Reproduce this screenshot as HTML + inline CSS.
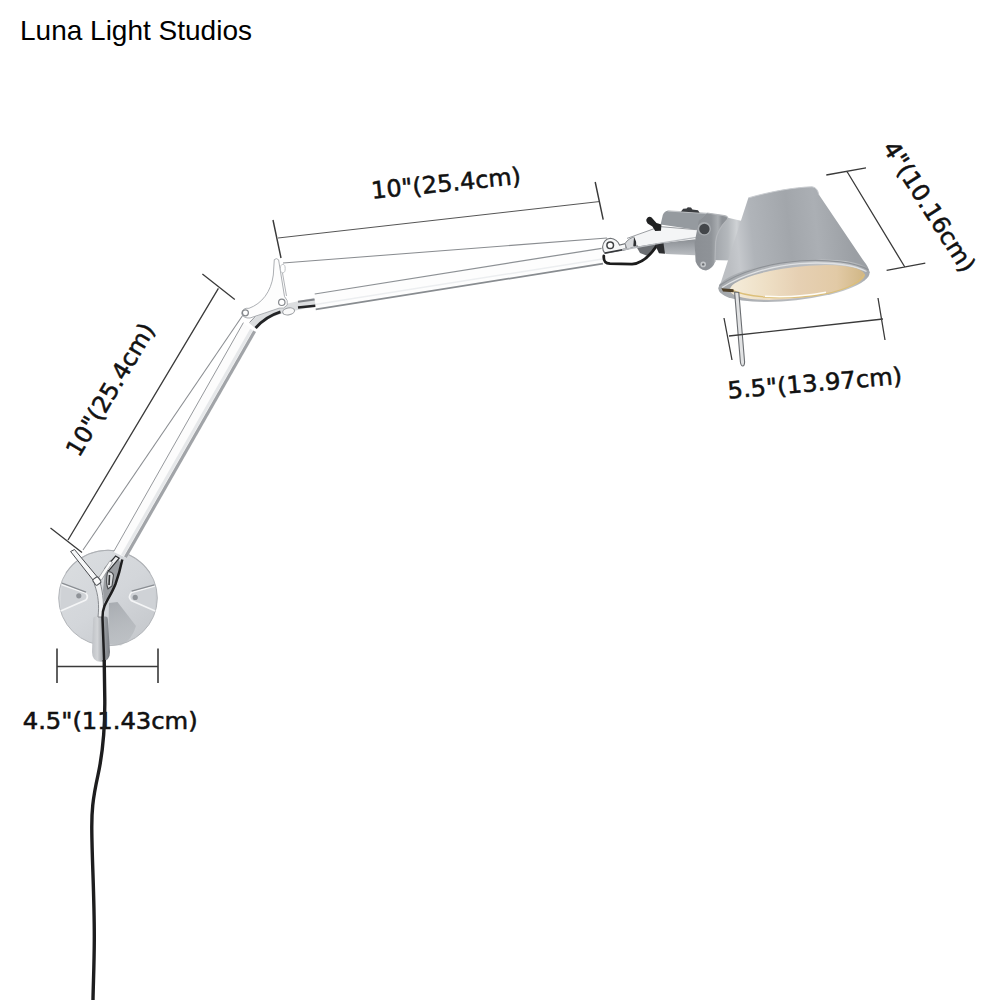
<!DOCTYPE html>
<html lang="en">
<head>
<meta charset="utf-8">
<title>Luna Light Studios</title>
<style>
html,body{margin:0;padding:0;background:#fff;}
body{width:1000px;height:1000px;position:relative;overflow:hidden;font-family:"Liberation Sans",sans-serif;}
#brand{position:absolute;left:20px;top:15px;font-size:28px;line-height:32px;color:#000;white-space:nowrap;letter-spacing:0;}
svg{position:absolute;left:0;top:0;}
.dim{stroke:#3a3a3a;stroke-width:1.3;fill:none;stroke-linecap:butt;}
.lbl{font-family:"DejaVu Sans","Liberation Sans",sans-serif;font-size:23.5px;fill:#111;stroke:#111;stroke-width:.55;}
</style>
</head>
<body>
<div id="brand">Luna Light Studios</div>
<svg width="1000" height="1000" viewBox="0 0 1000 1000">
<defs>
<linearGradient id="gShade" gradientUnits="userSpaceOnUse" x1="728" y1="245" x2="852" y2="232">
<stop offset="0" stop-color="#bcbfc3"/><stop offset=".08" stop-color="#c5c8cc"/><stop offset=".2" stop-color="#b0b4b9"/><stop offset=".5" stop-color="#a2a6ab"/><stop offset=".72" stop-color="#abafb4"/><stop offset="1" stop-color="#9b9fa4"/>
</linearGradient>
<linearGradient id="gInner" gradientUnits="userSpaceOnUse" x1="735" y1="274" x2="862" y2="288">
<stop offset="0" stop-color="#f4ebd8"/><stop offset=".25" stop-color="#eedfc5"/><stop offset=".5" stop-color="#e6d0b3"/><stop offset=".8" stop-color="#e2caa6"/><stop offset="1" stop-color="#d2b888"/>
</linearGradient>
<linearGradient id="gRim" gradientUnits="userSpaceOnUse" x1="720" y1="285" x2="868" y2="270">
<stop offset="0" stop-color="#a3a7ab"/><stop offset=".3" stop-color="#b2b5b9"/><stop offset=".6" stop-color="#babdc1"/><stop offset=".85" stop-color="#c3c6c9"/><stop offset="1" stop-color="#a3a7ab"/>
</linearGradient>
<linearGradient id="gNeck" gradientUnits="userSpaceOnUse" x1="716" y1="240" x2="742" y2="240">
<stop offset="0" stop-color="#a4a8ad"/><stop offset=".45" stop-color="#b4b8bc"/><stop offset=".8" stop-color="#cfd2d5"/><stop offset="1" stop-color="#b9bcc0"/>
</linearGradient>
<linearGradient id="gCollar" gradientUnits="userSpaceOnUse" x1="695" y1="240" x2="722" y2="240">
<stop offset="0" stop-color="#8b8f94"/><stop offset=".6" stop-color="#8f9398"/><stop offset=".85" stop-color="#a9adb1"/><stop offset="1" stop-color="#8d9196"/>
</linearGradient>
<linearGradient id="gCylLow" gradientUnits="userSpaceOnUse" x1="680" y1="240" x2="680" y2="256">
<stop offset="0" stop-color="#8e9297"/><stop offset=".5" stop-color="#a4a8ad"/><stop offset="1" stop-color="#bcbfc3"/>
</linearGradient>
<linearGradient id="gBase" gradientUnits="userSpaceOnUse" x1="75" y1="560" x2="140" y2="640">
<stop offset="0" stop-color="#d9dcdf"/><stop offset=".5" stop-color="#d3d6da"/><stop offset="1" stop-color="#c6c9cd"/>
</linearGradient>
<linearGradient id="gCylB" gradientUnits="userSpaceOnUse" x1="92" y1="640" x2="110" y2="640">
<stop offset="0" stop-color="#bfc2c6"/><stop offset=".3" stop-color="#d2d4d7"/><stop offset=".6" stop-color="#a3a7ab"/><stop offset="1" stop-color="#777b80"/>
</linearGradient>
<linearGradient id="gShadow" gradientUnits="userSpaceOnUse" x1="112" y1="602" x2="128" y2="646">
<stop offset="0" stop-color="#a6aaaf" stop-opacity=".95"/><stop offset="1" stop-color="#b4b8bc" stop-opacity=".5"/>
</linearGradient>
</defs>

<g id="base">
<ellipse cx="108" cy="598" rx="49.300" ry="47.800" fill="url(#gBase)" stroke="#b3b6ba" stroke-width="1"/>
<path d="M66 573A49.300 47.800 0 0 1 150 573" fill="none" stroke="#a9adb1" stroke-width="1.200" opacity=".7"/>
<!-- shadow -->
<path d="M109 603L117.500 602L136 626Q132 640 121 645.500L108 644Z" fill="url(#gShadow)"/>
<!-- left slot -->
<path d="M61.500 584.500L85.500 593Q89 596.500 85.800 600L60.600 611" fill="#cfd2d6" stroke="#f4f5f6" stroke-width="1.600"/>
<path d="M62 583.200L86 592.200" fill="none" stroke="#8a8e93" stroke-width="1.300"/>
<circle cx="78.800" cy="595.800" r="2.600" fill="#8f9398"/>
<!-- right slot -->
<path d="M154.800 586L131.500 592.500Q127.600 596.500 131.200 600.500L155.200 611" fill="#cfd2d6" stroke="#f4f5f6" stroke-width="1.600"/>
<path d="M154.400 584.800L131.600 591.200" fill="none" stroke="#8a8e93" stroke-width="1.300"/>
<circle cx="135.200" cy="597.400" r="2.600" fill="#8f9398"/>
<!-- cord holder cylinder -->
<path d="M93.200 619Q93.200 616.600 95.500 616.600L105.500 616.600Q107.800 616.600 107.800 619L110 652Q110 661.800 101 661.800Q92 661.800 92 652Z" fill="url(#gCylB)"/>
</g>
<g id="lowerarm">
<path d="M245 312L83 550" stroke="#8a8d91" stroke-width="1.050" fill="none"/>
<path d="M243 323L256 332L126.800 558L113.600 552Z" fill="#fcfcfc"/>
<path d="M251.500 329.400L122.300 555.400" stroke="#e6e8ea" stroke-width="3" fill="none"/>
<path d="M254.600 331.200L125.400 557.200" stroke="#a1a4a8" stroke-width="3.200" fill="none"/>
<path d="M243.400 322.600L113.800 551.400" stroke="#96999d" stroke-width="1" fill="none"/>
<!-- base fork hardware -->
<path d="M110.500 560L118.500 559L120.500 563L116 583L109.500 596L104 602L103 590L105 572Z" fill="#9a9da1"/>
<path d="M115.600 556L119.200 558.200L108.500 571L105 568.500Z" fill="#f0f1f2" stroke="#303234" stroke-width="1.200"/>
<path d="M107.500 572Q112 571 113.500 575L112 586L108 589Q105.500 583 107.500 572Z" fill="#d9dbdd" stroke="#47494c" stroke-width="1.100"/>
<path d="M109.500 575L109 585" stroke="#2d2f31" stroke-width="1.600" fill="none"/>
<path d="M109.700 561L112.500 562.500L101.500 580L98.500 578Z" fill="#fafafa" stroke="#8b8e92" stroke-width=".7"/>
<path d="M70.600 551.500L74.500 549.500L99 579L95 582.500Z" fill="#f6f7f8" stroke="#4a4c50" stroke-width="1"/>
<path d="M94.300 584C98.500 595 99.300 606 98 617L102.700 617C104.300 606 103.300 594 100 582Z" fill="#f0f1f2" stroke="#7d8084" stroke-width=".9"/>
<rect x="93.600" y="577.600" width="6.400" height="7" rx="1.600" transform="rotate(-35 96.800 581)" fill="#fbfbfb" stroke="#505357" stroke-width="1.100"/>
</g>
<path id="cord" d="M122.300 559.500C120.500 568 118 577 115.500 584C112 593 107 600 104.500 606C102.600 610.500 102.300 613 102.500 618L104.200 662" fill="none" stroke="#1e1e1f" stroke-width="2.500"/>
<g id="upperarm">
<path d="M283 263L607 238" stroke="#8a8d91" stroke-width="1.050" fill="none"/>
<path d="M314.700 294L601.600 248.300L603 264.400L315.800 310Z" fill="#fdfdfd"/>
<path d="M314.700 294L601.600 248.300" stroke="#8d9195" stroke-width="1.250" fill="none"/>
<path d="M315.700 309.300L603 263.700" stroke="#888c90" stroke-width="1.700" fill="none"/>
<path d="M315.300 304.500L602.500 258.900" stroke="#eceef0" stroke-width="1.500" fill="none"/>
<!-- right end bracket -->
<path d="M636 246L652 241.500L657 247L649 256.500L640 253Z" fill="#6c6f73"/>
<path d="M602.600 247Q603.500 239 610.500 238.300Q617 239 619.500 245L626 243.500L626 249.500L605 253.500Q602.600 251 602.600 247Z" fill="#f6f7f8" stroke="#6f7276" stroke-width="1.100"/>
<path d="M605 253L624.800 249.300" stroke="#35373a" stroke-width="1.500" fill="none"/>
<circle cx="610.200" cy="245.200" r="3.300" fill="#fff" stroke="#3f4144" stroke-width="1.500"/>
<path d="M625 243.500Q629 237.500 636 236.500L640 244.500L627 249.500Z" fill="#d7d9dc" stroke="#7b7e82" stroke-width=".9"/>
<path d="M635.300 237.300L634.600 246" stroke="#2e3032" stroke-width="2.600" fill="none"/>
</g>
<g id="elbow">
<path d="M252.600 326Q263 313.500 284 308.600L315 302" fill="none" stroke="#dcdee0" stroke-width="8.500"/>
<path d="M249.500 322.500Q260 309 282 304" fill="none" stroke="#8d9095" stroke-width="1"/>
<path d="M255.600 328Q265.500 316.500 280.500 311.800" fill="none" stroke="#232426" stroke-width="2.800"/>
<path d="M298 307.600L315.300 305.800" fill="none" stroke="#232426" stroke-width="2.500"/>
<path d="M298 301.800L314.600 299.400" fill="none" stroke="#808388" stroke-width="2"/>
<ellipse cx="288.600" cy="311.400" rx="6" ry="3.400" transform="rotate(-12 288.600 311.400)" fill="#fafafa" stroke="#9a9da1" stroke-width="1"/>
<path d="M274.300 259.600Q276.400 257.600 278.600 259.800L284.500 296.500Q288.500 300.500 287.300 305Q284 309.500 279 308.200L250 318Q243.500 318.500 241.500 313.500Q242.500 307.500 249 308.300C262 303.500 271 292 273.300 275Z" fill="#fdfdfd" stroke="#a3a6aa" stroke-width=".9"/>
<ellipse cx="282.800" cy="268.600" rx="2.400" ry="4.200" fill="none" stroke="#b9bcc0" stroke-width=".9"/>
<path d="M282.500 273L286.500 296" stroke="#a9acb0" stroke-width=".9" fill="none"/>
<circle cx="245.400" cy="312.800" r="3" fill="#fff" stroke="#85888c" stroke-width="1.200"/>
<circle cx="281.800" cy="302.300" r="3.200" fill="#fff" stroke="#85888c" stroke-width="1.200"/>
</g>
<g id="headjoint">
<!-- black cable loop -->
<path d="M603.800 256C603.400 261 605 263.200 610 263.600L632 264.200C641 263.400 648.500 258 656.500 246" fill="none" stroke="#1c1c1c" stroke-width="2.800" stroke-linecap="round"/>
<!-- upper cylinder -->
<path d="M667.6 210.8Q664 211.5 662.8 215L660.6 224.6L697.6 230L700 220L707.4 213.2Z" fill="#959a9f"/>
<path d="M667.6 210.8L707.4 213.4" stroke="#c4c7ca" stroke-width="1.2" fill="none"/>
<path d="M681 211.4l2.2-2.6l3.4-.2l1.2-1.4l3.2.4l1.400 1.800l5.600.800l1.600 2.600z" fill="#3b3d40"/>
<!-- lower cylinder -->
<path d="M659.4 243.2L695.4 239.2L695.4 255.2L666 254Q661 251 659.4 243.2Z" fill="url(#gCylLow)"/>
<path d="M654.4 243.5l9-1l1.600 11.300l-6-.6z" fill="#2c2d2f"/>
<!-- chrome arm -->
<path d="M634 236.500L660 226.600L697.800 229.800L696.400 237.200L662 242.600L638 246.500Z" fill="#f4f5f6"/>
<path d="M622 250L662 242.800L696.400 237.400" fill="none" stroke="#b9bcc0" stroke-width="1.3"/>
<path d="M627 238.400L660 226.600L697.800 229.800" fill="none" stroke="#8f9296" stroke-width=".9"/>
<!-- winged screw -->
<path d="M646.400 219.200Q648.500 215.600 651.600 217.400L656.500 223L661.400 224.400L661 230.800L655.200 231L652.400 226.600L647.600 223.400Q645.600 221.400 646.400 219.200Z" fill="#202122"/>
<!-- neck -->
<path d="M712 215.500L727 217.400L743 221.200L731.200 260.600L710 260Z" fill="url(#gNeck)"/>
<!-- collar -->
<path d="M698.800 220.600L707.200 213L724.200 215.600Q728.600 216.400 727.400 219.400C720 227 716.200 234 715.600 242L715 262Q713 268.500 706 270.400Q698.500 270 695.600 261.500L694.600 243Z" fill="url(#gCollar)"/>
<path d="M707.200 213L724.200 215.600Q728.600 216.400 727.400 219.400C720 227 716.200 234 715.600 242L715 262" fill="none" stroke="#b4b7bb" stroke-width="1.2"/>
<circle cx="704.200" cy="228.800" r="6.800" fill="#a9adb1"/>
<circle cx="704.400" cy="229" r="5.200" fill="#43464a"/>
<circle cx="703.200" cy="264.400" r="2.800" fill="#c3c6c9"/>
<circle cx="703.200" cy="264.400" r="1.200" fill="#6b6e72"/>
</g>
<g id="shade">
<path d="M748.3 197.900C770 191.600 794 187.300 812 186.800Q817.300 187.200 818.800 194.600L863 260Q869.500 268 869.600 273L794 281L718.400 288.900Q718.600 285 721 282Z" fill="url(#gShade)"/>
<path d="M748.300 197.900C770 191.600 794 187.300 812 186.800Q817.300 187.200 818.800 194.600" fill="none" stroke="#c9ccd0" stroke-width="1"/>
<ellipse cx="794" cy="280.700" rx="76" ry="19.700" transform="rotate(-6.300 794 280.700)" fill="url(#gRim)"/>
<path d="M719.500 285.600C740 271.500 770 263 800 260.800C830 259 855 262.500 868.200 269.600" fill="none" stroke="#8e9297" stroke-width="1.200"/>
<path d="M722 287.500C742 274.500 771 266 800 263.600C829 261.800 853 264.800 866.500 271.500" fill="none" stroke="#dfe1e3" stroke-width="1.300"/>
<ellipse cx="797.400" cy="282.500" rx="67.800" ry="15.700" transform="rotate(-6.500 797.400 282.500)" fill="url(#gInner)"/>
<path d="M731 289.700C745 297 780 300 815 295.600C840 292 858 285 864.600 274.500" fill="none" stroke="#dcbf78" stroke-width="1.300"/>
<path d="M765 296.300C785 297.600 805 296.300 826 292.300" fill="none" stroke="#fffdf6" stroke-width="1.500"/>
<path d="M721.400 288.200L733.500 289.200L733.800 292.200L723 291.600Z" fill="#4e3f27"/>
<path d="M734.600 292L738.800 292.400L744.600 362Q744.400 366 742.800 366Q741 366 740.400 362Z" fill="#e2e3e4" stroke="#6a6d71" stroke-width="1.100"/>
</g>
<g class="dim">
<path d="M278 238L599 201.600" stroke="#4c4c4c" stroke-width=".95"/><path d="M273 220L281 258M595.200 182L603.200 219.600" stroke-width="1.450"/>
<path d="M218.4 288.4L68 540M202.4 274L234.8 299.6M50.5 528L82 552.5"/>
<path d="M847 171.5L904.5 266.5M826.3 175L866 167.8M886.6 270.4L925.3 263.2"/>
<path d="M729 336L883 319M724 318L732 360M878 298L885 340"/>
<path d="M57 666.5L158 666.5M57 648.5L57 683M158 648.5L158 683" stroke-width="1.6"/>
</g>
<g class="lbl" text-anchor="middle">
<text transform="translate(446.8 191.3) rotate(-5.7)" textLength="150.5" lengthAdjust="spacingAndGlyphs">10"(25.4cm)</text>
<text transform="translate(117.3 393.8) rotate(-59.3)" textLength="150" lengthAdjust="spacingAndGlyphs">10"(25.4cm)</text>
<text transform="translate(922.4 211) rotate(57.5)" textLength="150" lengthAdjust="spacingAndGlyphs">4"(10.16cm)</text>
<text transform="translate(815.5 391.2) rotate(-4.9)" textLength="175" lengthAdjust="spacingAndGlyphs">5.5"(13.97cm)</text>
<text transform="translate(110.2 729)" textLength="175" lengthAdjust="spacingAndGlyphs">4.5"(11.43cm)</text>
</g>
<path d="M104.200 660L104.800 700C105 730 103 752 98 775C92.500 800 91.600 812 91.800 830C92 860 94.500 900 94.300 940C94.200 965 93.200 985 93 1000" fill="none" stroke="#1d1d1e" stroke-width="3.400"/>
</svg>
</body>
</html>
